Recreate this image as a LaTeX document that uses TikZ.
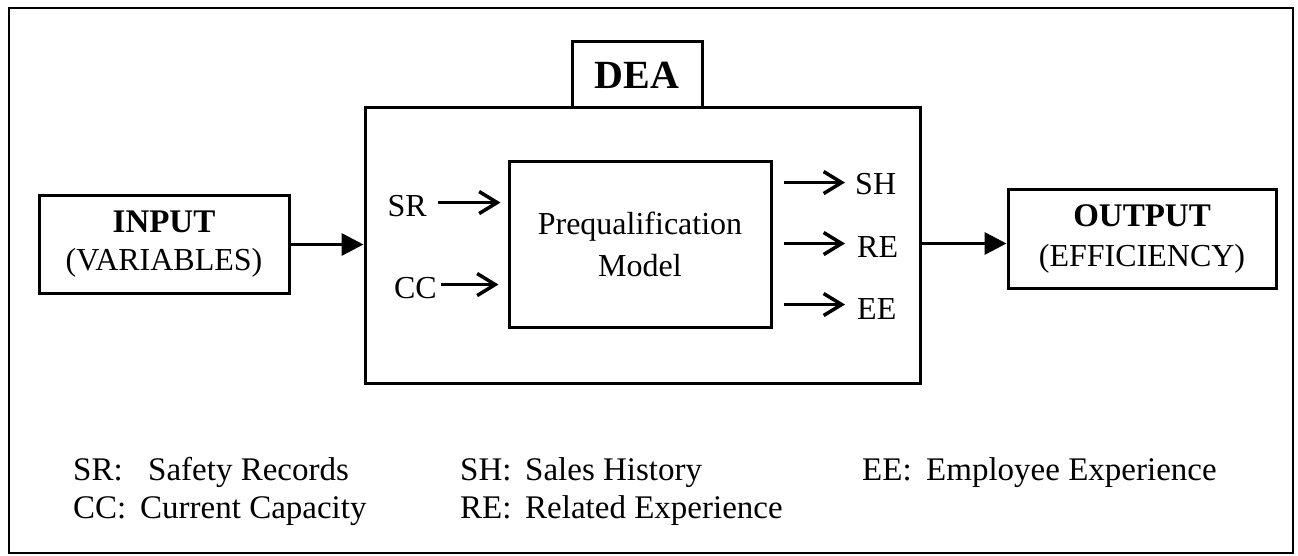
\documentclass[tikz,border=0pt]{standalone}
\usepackage{fontspec}
\setmainfont{Liberation Serif}
\usetikzlibrary{arrows.meta,calc}
\begin{document}
\begin{tikzpicture}[x=1pt,y=-1pt,
  box/.style={draw, line width=3pt, inner sep=0pt, align=center},
  txt/.style={inner sep=0pt, font=\fontsize{32}{38}\selectfont},
  leg/.style={inner sep=0pt, anchor=base west, font=\fontsize{33}{38}\selectfont},
  bigarrow/.style={line width=3.5pt, -{Triangle[length=22pt,width=22pt]}},
  barb/.style={line width=3.5pt, -{Straight Barb[length=18pt,width=22pt]}},
]
\useasboundingbox (0,0) rectangle (1298,556);
\node[draw, line width=2.5pt, minimum width=1284pt, minimum height=545pt, inner sep=0pt] (frame) at (651,280.5) {};

% DEA container and tab
\node[box, minimum width=555pt, minimum height=275pt] (dea) at (642.5,245.5) {};
\node[box, minimum width=130pt, minimum height=66pt, font=\bfseries\fontsize{40}{44}\selectfont] (tab) at (637,75) {DEA};

% inner model
\node[box, minimum width=262pt, minimum height=165pt, font=\fontsize{32}{42}\selectfont] (pq) at (640,244.5) {Prequalification\\Model};

% input / output
\node[box, minimum width=250pt, minimum height=97pt, font=\fontsize{32}{38}\selectfont] (inp) at (164,244.5) {{\bfseries\fontsize{33}{38}\selectfont INPUT}\\(VARIABLES)};
\node[box, minimum width=268pt, minimum height=98pt, font=\fontsize{32}{40}\selectfont] (out) at (1142,239) {{\bfseries\fontsize{33}{40}\selectfont OUTPUT}\\(EFFICIENCY)};

% variable labels
\node[txt, anchor=base east] (sr) at (427,217) {SR};
\node[txt, anchor=base east] (cc) at (437,298) {CC};
\node[txt, anchor=base west] (sh) at (855,195) {SH};
\node[txt, anchor=base west] (re) at (857,257) {RE};
\node[txt, anchor=base west] (ee) at (857,319) {EE};

% small arrows
\draw[barb] ($(sr.east)+(11,-4)$) -- ($(sr.east -| pq.west)+(-7,-4)$);
\draw[barb] ($(cc.east)+(4,-3)$) -- ($(cc.east -| pq.west)+(-9,-3)$);
\draw[barb] ($(sh.west -| pq.east)+(11,-2)$) -- ($(sh.west)+(-10,-2)$);
\draw[barb] ($(re.west -| pq.east)+(11,-3)$) -- ($(re.west)+(-12,-3)$);
\draw[barb] ($(ee.west -| pq.east)+(11,-4)$) -- ($(ee.west)+(-12,-4)$);

% main arrows
\draw[bigarrow] (inp.east) -- (inp.east -| dea.west);
\draw[bigarrow] ($(dea.east)+(0,-2)$) -- ($(dea.east -| out.west)+(0,-2)$);

% legend
\node[leg] (l1a) at (73,480) {SR:};
\node[leg] (l1b) at (148,480) {Safety Records};
\node[leg] (l2a) at (73,518) {CC:};
\node[leg] (l2b) at (140,518) {Current Capacity};
\node[leg] (l3a) at (460,480) {SH:};
\node[leg] (l3b) at (525,480) {Sales History};
\node[leg] (l4a) at (460,518) {RE:};
\node[leg] (l4b) at (525,518) {Related Experience};
\node[leg] (l5a) at (862,480) {EE:};
\node[leg] (l5b) at (926,480) {Employee Experience};
\end{tikzpicture}
\end{document}
